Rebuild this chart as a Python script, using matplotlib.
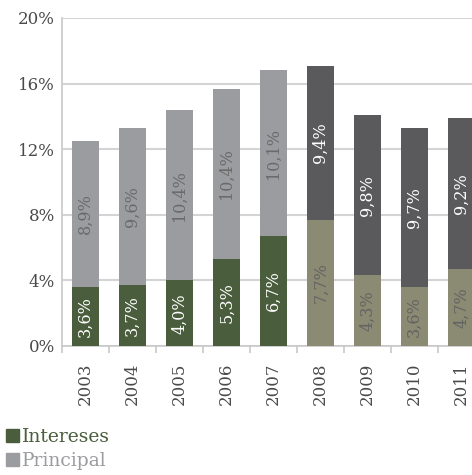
import matplotlib
matplotlib.use("Agg")
import matplotlib.pyplot as plt
from matplotlib.patches import Patch
import numpy as np

years = ["2003", "2004", "2005", "2006", "2007", "2008", "2009", "2010", "2011"]
intereses = [3.6, 3.7, 4.0, 5.3, 6.7, 7.7, 4.3, 3.6, 4.7]
principal = [8.9, 9.6, 10.4, 10.4, 10.1, 9.4, 9.8, 9.7, 9.2]
yticks = [0, 4, 8, 12, 16, 20]

c_int = "#4a5d3c"
c_pri = "#9b9ca0"
c_int2 = "#8b8a72"
c_pri2 = "#5a5a5c"
n_early = 5

plt.rcParams["font.family"] = ["DejaVu Serif"]

fig = plt.figure(figsize=(4.72, 4.75), dpi=100)
ax = fig.add_axes([62/472, 1-346/475, 1-62/472, (346-18)/475])

x = np.arange(len(years))
cols_i = [c_int if i < n_early else c_int2 for i in range(len(years))]
cols_p = [c_pri if i < n_early else c_pri2 for i in range(len(years))]
w = 0.575
ax.bar(x, intereses, width=w, color=cols_i, zorder=3)
ax.bar(x, principal, width=w, bottom=intereses, color=cols_p, zorder=3)

for i in range(len(years)):
    ti = "white" if i < n_early else "#636363"
    tp = "#6a6a6a" if i < n_early else "white"
    ax.text(x[i], intereses[i]/2, f"{intereses[i]:.1f}%".replace(".", ","),
            rotation=90, ha="center", va="center", color=ti, fontsize=11.5, zorder=4)
    ax.text(x[i], intereses[i] + principal[i]/2, f"{principal[i]:.1f}%".replace(".", ","),
            rotation=90, ha="center", va="center", color=tp, fontsize=11.5, zorder=4)

ax.set_ylim(0, 20)
ax.set_xlim(-0.5, -0.5 + (472-62)/47)
ax.set_yticks(yticks)
ax.set_yticklabels([f"{v}%" for v in yticks], fontsize=12, color="#4a4a4a")
ax.set_xticks(x)
ax.set_xticklabels(years, rotation=90, fontsize=12, color="#4a4a4a")
ax.set_xticks(np.arange(len(years)) - 0.5, minor=True)
ax.tick_params(axis="x", which="major", length=0, pad=12)
ax.tick_params(axis="x", which="minor", length=5, color="#c8c8c8", width=1.2)
ax.tick_params(axis="y", length=0, pad=5)
ax.grid(axis="y", color="#d4d4d4", linewidth=1.5, zorder=0)
for s in ["top", "right"]:
    ax.spines[s].set_visible(False)
for s in ["left", "bottom"]:
    ax.spines[s].set_color("#c8c8c8")
    ax.spines[s].set_linewidth(1.2)

handles = [Patch(color=c_int), Patch(color=c_pri)]
leg = fig.legend(handles, ["Intereses", "Principal"], loc="upper left",
                 bbox_to_anchor=(0.012, 1-428/475), frameon=False, fontsize=13.5,
                 handlelength=0.7, handleheight=0.7, handletextpad=0.15,
                 labelspacing=0.3, borderpad=0, borderaxespad=0)
for t, c in zip(leg.get_texts(), [c_int, c_pri]):
    t.set_color(c)

fig.savefig("out.png", dpi=100)
